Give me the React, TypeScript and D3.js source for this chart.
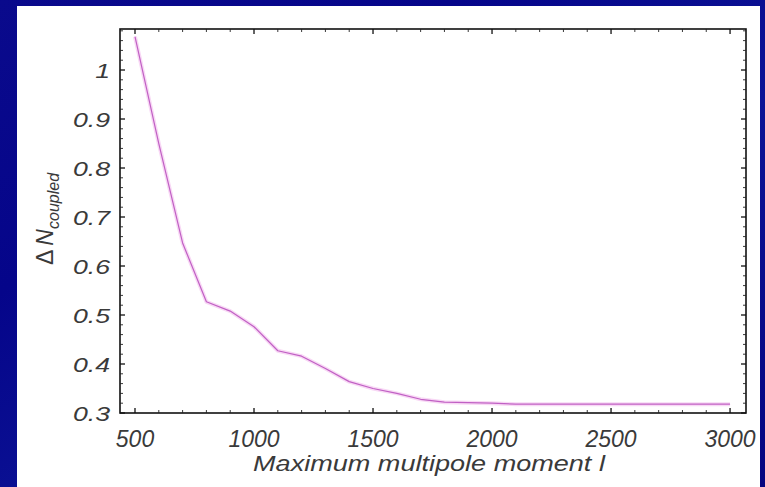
import React from "react";
import * as d3 from "d3";

const lValues = [500, 600, 700, 800, 900, 1000, 1100, 1200, 1300, 1400, 1500, 1600, 1700, 1800, 1900, 2000, 2100, 2200, 2300, 2400, 2500, 2600, 2700, 2800, 2900, 3000];
const deltaN = [1.068, 0.85, 0.647, 0.527, 0.508, 0.476, 0.427, 0.416, 0.391, 0.364, 0.35, 0.34, 0.328, 0.322, 0.321, 0.32, 0.318, 0.318, 0.318, 0.318, 0.318, 0.318, 0.318, 0.318, 0.318, 0.318];
const xMajorTicks = [500, 1000, 1500, 2000, 2500, 3000];
const yMajorTicks = [0.3, 0.4, 0.5, 0.6, 0.7, 0.8, 0.9, 1];
const yTickLabels = ["0.3", "0.4", "0.5", "0.6", "0.7", "0.8", "0.9", "1"];
const xTickLabels = ["500", "1000", "1500", "2000", "2500", "3000"];
const xTitle = "Maximum multipole moment l";

const W = 765;
const H = 487;
const L = 120, R = 746, T = 29, B = 413;

export default function App() {
  const x = d3.scaleLinear().domain([437, 3067]).range([L, R]);
  const y = d3.scaleLinear().domain([0.3, 1.0837]).range([B, T]);
  const xMinor = d3.range(500, 3001, 100).filter((v) => v % 500 !== 0);
  const yMinor = d3.range(0.3, 1.081, 0.02).map((v) => Math.round(v * 100) / 100).filter((v) => Math.abs(v * 10 - Math.round(v * 10)) > 1e-6);
  const pts = lValues.map((l, i) => [l, deltaN[i]] as [number, number]);
  const line = d3.line<[number, number]>().x((d) => x(d[0])).y((d) => y(d[1]));
  const path = line(pts) || "";
  const font = "'Liberation Sans', Arial, Helvetica, sans-serif";
  const txt = "#3a3a3a";

  return (
    <svg width={W} height={H} style={{ position: "fixed", left: 0, top: 0, display: "block" }}>
      <defs>
        <linearGradient id="bg" x1="0" y1="0" x2="1" y2="1">
          <stop offset="0" stopColor="#0a0a8c" />
          <stop offset="0.3" stopColor="#05058a" />
          <stop offset="0.6" stopColor="#0c1496" />
          <stop offset="1" stopColor="#050580" />
        </linearGradient>
      </defs>
      <rect x={0} y={0} width={W} height={H} fill="url(#bg)" />
      <rect x={17} y={6} width={743} height={H - 6} fill="#ffffff" />

      {/* data line with soft halo */}
      <path d={path} fill="none" stroke="#f8d8f5" strokeWidth={4} strokeLinejoin="round" />
      <path d={path} fill="none" stroke="#c060c4" strokeWidth={1.2} strokeLinejoin="round" />

      {/* frame */}
      <rect x={L} y={T} width={R - L} height={B - T} fill="none" stroke="#111" strokeWidth={1.6} />

      {/* x ticks bottom & top */}
      {xMajorTicks.map((v) => (
        <g key={"xM" + v}>
          <line x1={x(v)} x2={x(v)} y1={B} y2={B - 5} stroke="#111" strokeWidth={1.3} />
          <line x1={x(v)} x2={x(v)} y1={T} y2={T + 5} stroke="#111" strokeWidth={1.3} />
        </g>
      ))}
      {xMinor.map((v) => (
        <g key={"xm" + v}>
          <line x1={x(v)} x2={x(v)} y1={B} y2={B - 3} stroke="#222" strokeWidth={0.9} />
          <line x1={x(v)} x2={x(v)} y1={T} y2={T + 3} stroke="#222" strokeWidth={0.9} />
        </g>
      ))}
      {/* y ticks left & right */}
      {yMajorTicks.map((v) => (
        <g key={"yM" + v}>
          <line x1={L} x2={L + 5} y1={y(v)} y2={y(v)} stroke="#111" strokeWidth={1.3} />
          <line x1={R} x2={R - 5} y1={y(v)} y2={y(v)} stroke="#111" strokeWidth={1.3} />
        </g>
      ))}
      {yMinor.map((v) => (
        <g key={"ym" + v}>
          <line x1={L} x2={L + 3} y1={y(v)} y2={y(v)} stroke="#222" strokeWidth={0.9} />
          <line x1={R} x2={R - 3} y1={y(v)} y2={y(v)} stroke="#222" strokeWidth={0.9} />
        </g>
      ))}

      {/* y tick labels */}
      {yMajorTicks.map((v, i) => (
        <text
          key={"yl" + v}
          transform={`translate(110,${y(v) + 7.5}) scale(1.27,1)`}
          textAnchor="end"
          fontFamily={font}
          fontStyle="italic"
          fontSize={21}
          fill={txt}
        >
          {yTickLabels[i]}
        </text>
      ))}
      {/* x tick labels */}
      {xMajorTicks.map((v, i) => (
        <text
          key={"xl" + v}
          x={x(v)}
          y={446.5}
          textAnchor="middle"
          fontFamily={font}
          fontStyle="italic"
          fontSize={23}
          fill={txt}
        >
          {xTickLabels[i]}
        </text>
      ))}

      {/* x title */}
      <text
        transform={`translate(${(L + R) / 2 - 4},470.5) scale(1.23,1)`}
        textAnchor="middle"
        fontFamily={font}
        fontStyle="italic"
        fontSize={22}
        fill={txt}
      >
        {xTitle}
      </text>

      {/* y title */}
      <text
        transform={`translate(53,219) rotate(-90)`}
        textAnchor="middle"
        fontFamily={font}
        fill={txt}
      >
        <tspan fontSize={23} fontStyle="normal">Δ</tspan>
        <tspan fontSize={23} fontStyle="italic" dx={4}>N</tspan>
        <tspan fontSize={16} fontStyle="italic" dy={6}>coupled</tspan>
      </text>
    </svg>
  );
}
